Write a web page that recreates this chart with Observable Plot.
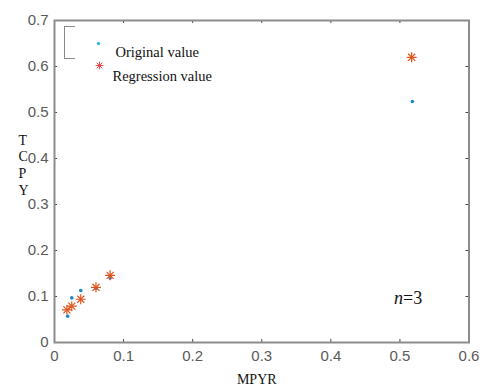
<!DOCTYPE html>
<html><head><meta charset="utf-8">
<script src="https://cdn.jsdelivr.net/npm/d3@7"></script>
<script src="https://cdn.jsdelivr.net/npm/@observablehq/plot@0.6"></script>
<style>
body{margin:0;background:#fff;}
#c{position:relative;width:483px;height:391px;}
#br{position:absolute;left:64px;top:26px;width:10px;height:31px;border:1.5px solid #8a8a8a;border-right:none;}
</style></head>
<body><div id="c"><div id="br"></div></div>
<script>
const origX = [0.019, 0.025, 0.038, 0.060, 0.0805, 0.518];
const origY = [0.057, 0.097, 0.113, 0.118, 0.140, 0.524];
const regX = [0.018, 0.025, 0.038, 0.060, 0.0805, 0.517];
const regY = [0.071, 0.079, 0.094, 0.120, 0.146, 0.620];
const xTicks = [0, 0.1, 0.2, 0.3, 0.4, 0.5, 0.6];
const yTicks = [0, 0.1, 0.2, 0.3, 0.4, 0.5, 0.6, 0.7];
const legendLabels = ["Original value", "Regression value"];

const orig = origX.map((x, i) => ({x, y: origY[i]}));
const reg = regX.map((x, i) => ({x, y: regY[i]}));
const blue = "#1a86d0", orange = "#e0531c";
const serif = "'Liberation Serif', 'Times New Roman', serif";
const fh = 322, fw = 414.5;
const chart = Plot.plot({
  width: 483, height: 391,
  marginLeft: 54, marginRight: 14.5, marginTop: 20, marginBottom: 49,
  style: {fontFamily: "'Liberation Sans', Arial, sans-serif", fontSize: "15px", color: "#555", background: "#fff"},
  x: {domain: [0, 0.6]},
  y: {domain: [0, 0.7]},
  marks: [
    Plot.ruleX(xTicks.slice(1, -1), {stroke: "#444", insetTop: fh - 3}),
    Plot.ruleX(xTicks.slice(1, -1), {stroke: "#444", insetBottom: fh - 3}),
    Plot.ruleY(yTicks.slice(1, -1), {stroke: "#444", insetRight: fw - 3}),
    Plot.ruleY(yTicks.slice(1, -1), {stroke: "#444", insetLeft: fw - 3}),
    Plot.frame({stroke: "#8c8c8c", strokeWidth: 2}),
    Plot.axisX(xTicks, {tickSize: 0, tickPadding: 8, tickFormat: d => String(d), label: null, fill: "#5a5a5a"}),
    Plot.axisY(yTicks, {tickSize: 0, tickPadding: 6, tickFormat: d => String(d), label: null, fill: "#5a5a5a"}),
    Plot.dot(orig, {x: "x", y: "y", r: 1.8, fill: blue, stroke: "none"}),
    Plot.dot(reg, {x: "x", y: "y", r: 3.3, symbol: "plus", stroke: orange, strokeWidth: 1.2}),
    Plot.dot(reg, {x: "x", y: "y", r: 3.3, symbol: "times", stroke: orange, strokeWidth: 1.2}),
    Plot.dot([0], {frameAnchor: "top-left", dx: 44, dy: 23, r: 1.6, fill: "#1ab0f0", stroke: "none"}),
    Plot.dot([0], {frameAnchor: "top-left", dx: 45, dy: 45, r: 2.6, symbol: "plus", stroke: "#f04848", strokeWidth: 1}),
    Plot.dot([0], {frameAnchor: "top-left", dx: 45, dy: 45, r: 2.6, symbol: "times", stroke: "#f04848", strokeWidth: 1}),
    Plot.text([legendLabels[0]], {frameAnchor: "top-left", dx: 61, dy: 26, text: d => d, textAnchor: "start", fontFamily: serif, fontSize: 14.5, fill: "#111"}),
    Plot.text([legendLabels[1]], {frameAnchor: "top-left", dx: 58, dy: 50, text: d => d, textAnchor: "start", fontFamily: serif, fontSize: 14.5, fill: "#111"}),
    Plot.text(["n"], {frameAnchor: "bottom-right", dx: -66, dy: -39, text: d => d, textAnchor: "end", fontFamily: serif, fontStyle: "italic", fontSize: 18, fill: "#111"}),
    Plot.text(["=3"], {frameAnchor: "bottom-right", dx: -66, dy: -39, text: d => d, textAnchor: "start", fontFamily: serif, fontSize: 18, fill: "#111"}),
    Plot.text(["MPYR"], {frameAnchor: "bottom", dx: -5, dy: 41, text: d => d, fontFamily: serif, fontSize: 14, fill: "#111"}),
    Plot.text(["T\nC\nP\nY"], {frameAnchor: "left", dx: -36, dy: -17, text: d => d, lineHeight: 1.2, fontFamily: serif, fontSize: 14, fill: "#111"})
  ]
});
document.getElementById("c").prepend(chart);
</script></body></html>
